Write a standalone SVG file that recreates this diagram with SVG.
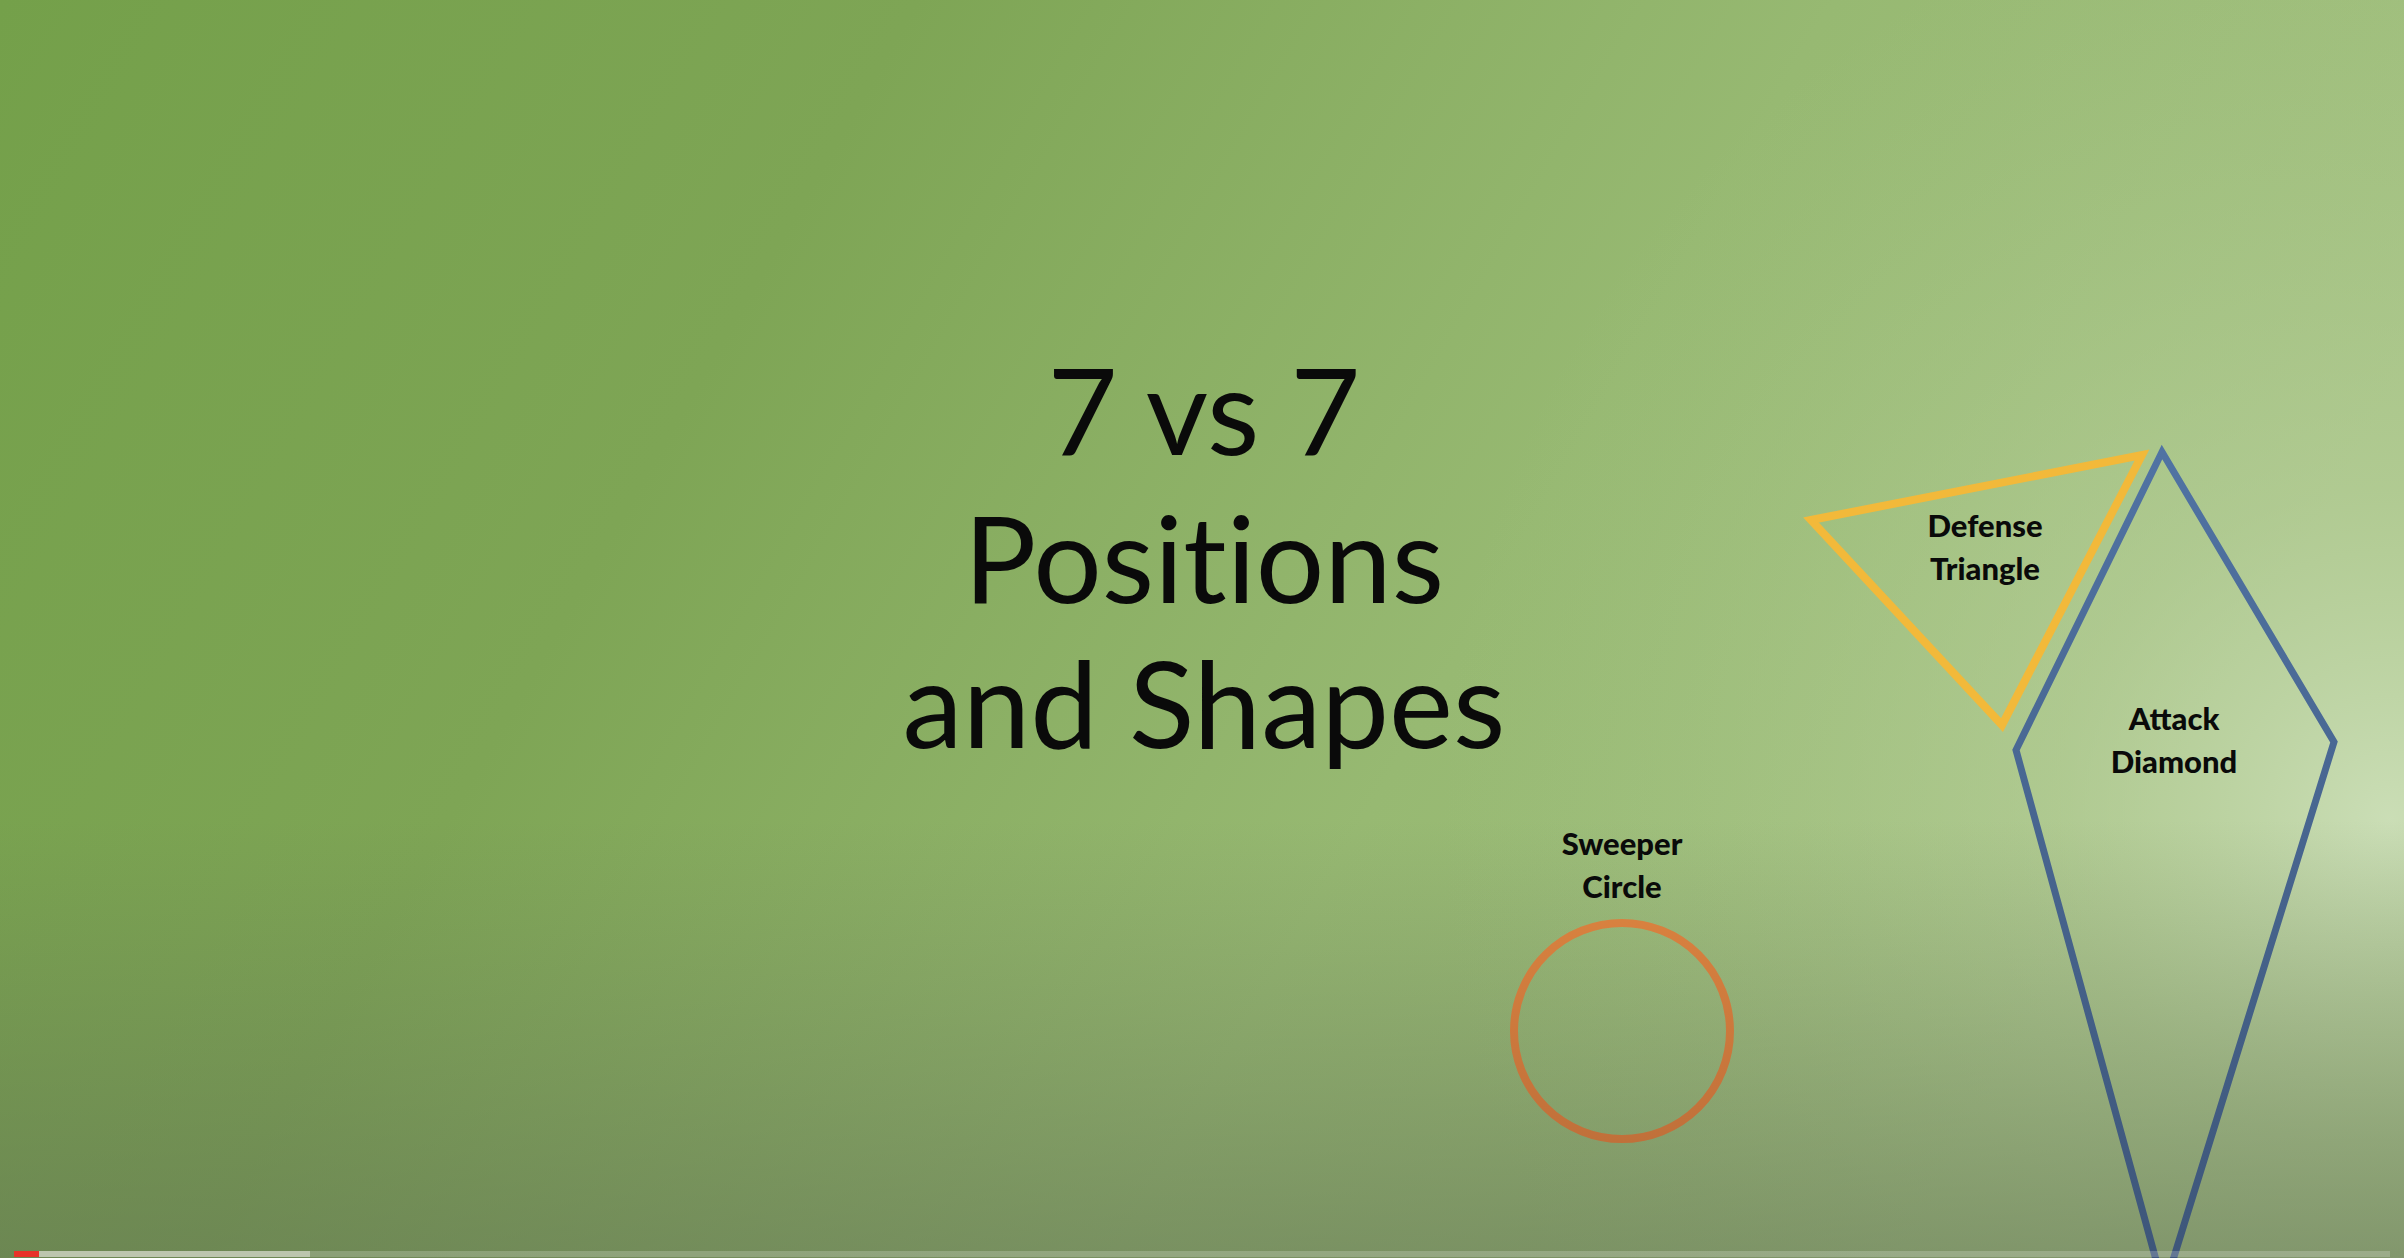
<svg xmlns="http://www.w3.org/2000/svg" width="2404" height="1258" viewBox="0 0 2404 1258">
  <defs>
    <linearGradient id="bgBase" x1="0" y1="0" x2="1" y2="0.3">
      <stop offset="0" stop-color="#74a04a"/>
      <stop offset="0.35" stop-color="#7ea555"/>
      <stop offset="0.7" stop-color="#97b972"/>
      <stop offset="1" stop-color="#a2c07f"/>
    </linearGradient>
    <radialGradient id="glow" cx="2390" cy="820" r="950" gradientUnits="userSpaceOnUse">
      <stop offset="0" stop-color="#cfe1bc" stop-opacity="0.9"/>
      <stop offset="0.35" stop-color="#bed4a4" stop-opacity="0.5"/>
      <stop offset="1" stop-color="#a8c78a" stop-opacity="0"/>
    </radialGradient>
    <linearGradient id="bottomShade" x1="0" y1="0" x2="0" y2="1">
      <stop offset="0" stop-color="#5f6f52" stop-opacity="0"/>
      <stop offset="1" stop-color="#5f6f52" stop-opacity="0.55"/>
    </linearGradient>
    <linearGradient id="diamondStroke" x1="0" y1="450" x2="0" y2="1290" gradientUnits="userSpaceOnUse">
      <stop offset="0" stop-color="#5073a3"/>
      <stop offset="1" stop-color="#3d5578"/>
    </linearGradient>
    <linearGradient id="circleStroke" x1="0" y1="920" x2="0" y2="1142" gradientUnits="userSpaceOnUse">
      <stop offset="0" stop-color="#d8813f"/>
      <stop offset="1" stop-color="#c0703a"/>
    </linearGradient>
    <style>
      .title { font-family: Lato, "Open Sans", sans-serif; font-size: 121px; fill: #0a0a0a; text-anchor: middle; font-variant-ligatures: none; font-feature-settings: "liga" 0; }
      .label { font-family: Lato, "Open Sans", sans-serif; font-weight: 900; font-size: 31px; fill: #0a0a0a; text-anchor: middle; }
      .shape { fill: none; stroke-linejoin: miter; }
    </style>
  </defs>

  <g id="background">
    <rect x="0" y="0" width="2404" height="1258" fill="url(#bgBase)"/>
    <rect x="0" y="0" width="2404" height="1258" fill="url(#glow)"/>
    <rect x="0" y="820" width="2404" height="438" fill="url(#bottomShade)"/>
  </g>

  <g id="title">
    <text class="title" x="1204" y="455">7 vs 7</text>
    <text class="title" x="1204" y="603">Positions</text>
    <text class="title" x="1204" y="748">and Shapes</text>
  </g>

  <g id="connectors"></g>

  <g id="sweeper-circle">
    <circle class="shape" cx="1622" cy="1031" r="108" stroke="url(#circleStroke)" stroke-width="8"/>
    <text class="label" x="1622" y="855">Sweeper</text>
    <text class="label" x="1622" y="898">Circle</text>
  </g>

  <g id="attack-diamond">
    <polygon class="shape" points="2162,452 2334,742 2164,1289 2016,750" stroke="url(#diamondStroke)" stroke-width="7"/>
    <text class="label" x="2174" y="730">Attack</text>
    <text class="label" x="2174" y="773">Diamond</text>
  </g>

  <g id="defense-triangle">
    <polygon class="shape" points="1811,520 2142,455 2002,725" stroke="#f2b93a" stroke-width="8"/>
    <text class="label" x="1985" y="537">Defense</text>
    <text class="label" x="1985" y="580">Triangle</text>
  </g>

  <g id="progress-bar">
    <rect x="14" y="1251" width="2376" height="6" fill="#ffffff" opacity="0.2"/>
    <rect x="39" y="1251" width="271" height="6" fill="#bcc5ae"/>
    <rect x="14" y="1251" width="25" height="6" fill="#e8322a"/>
  </g>
</svg>
